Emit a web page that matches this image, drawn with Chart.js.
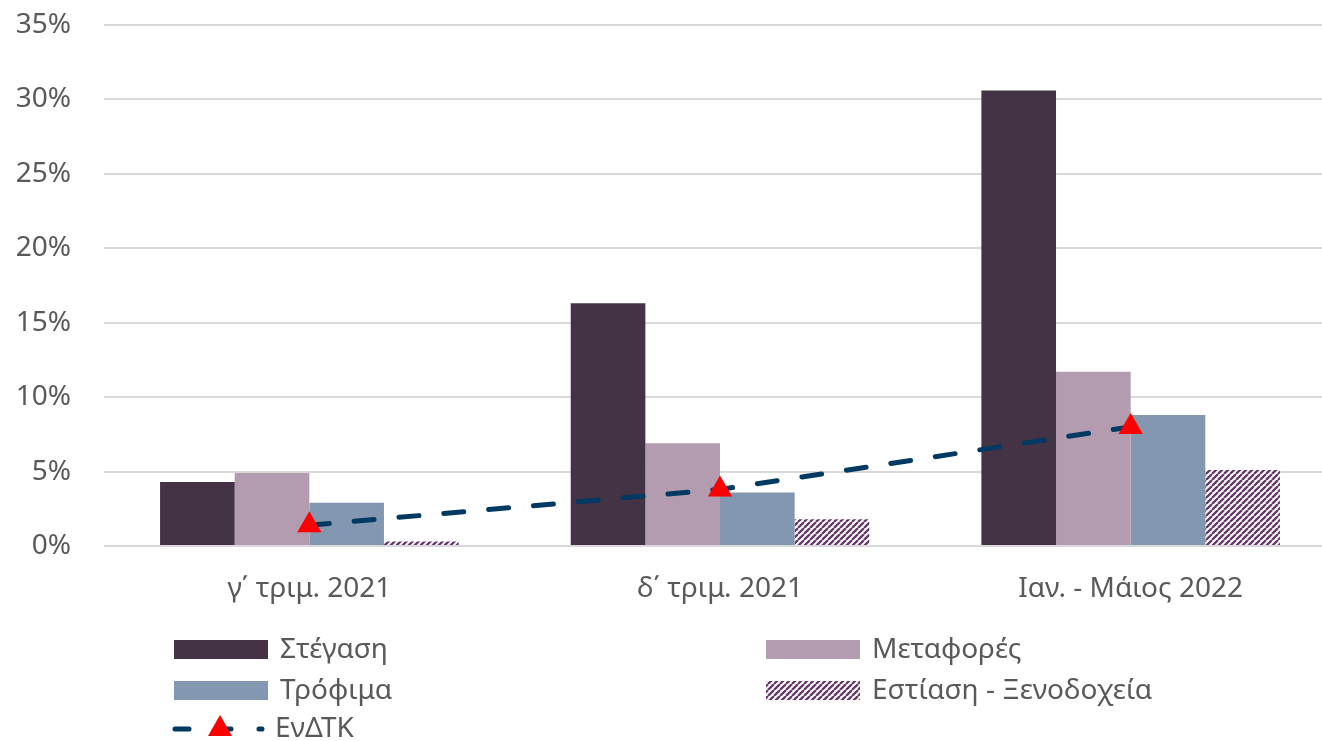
<!DOCTYPE html>
<html>
<head>
<meta charset="utf-8">
<script src="https://cdn.jsdelivr.net/npm/chart.js@4/dist/chart.umd.min.js"></script>
<style>
  html, body { margin: 0; padding: 0; background: #fff; overflow: hidden; width: 1322px; height: 741px; }
  canvas { display: block; }
</style>
</head>
<body>
<canvas id="chart" width="1350" height="741"></canvas>
<script>
'use strict';

const categories = ['γ΄ τριμ. 2021', 'δ΄ τριμ. 2021', 'Ιαν. - Μάιος 2022'];
const housing = [4.3, 16.3, 30.6];
const transport = [4.9, 6.9, 11.7];
const food = [2.9, 3.6, 8.8];
const hotels = [0.3, 1.8, 5.1];
const hicp = [1.4, 3.8, 8.0];
const yTicks = [0, 5, 10, 15, 20, 25, 30, 35];

const textColor = '#595959';
const fontFamily = '"Noto Sans", "Open Sans", sans-serif';
const fontSize = 28;

function makeHatch() {
  const size = 6;
  const tile = document.createElement('canvas');
  tile.width = size;
  tile.height = size;
  const c = tile.getContext('2d');
  c.fillStyle = '#ffffff';
  c.fillRect(0, 0, size, size);
  c.strokeStyle = '#66396a';
  c.lineWidth = 2.3;
  c.beginPath();
  for (let k = -size; k <= size * 2; k += size) {
    c.moveTo(k, size);
    c.lineTo(k + size, 0);
  }
  c.stroke();
  return c.createPattern(tile, 'repeat');
}

const hatch = makeHatch();

// legend drawn under the axis, two columns like the original
const bottomLegend = {
  id: 'bottomLegend',
  afterDraw(chart) {
    const ctx = chart.ctx;
    const ds = chart.data.datasets;
    const items = [
      { d: ds[1], x: 174, y: 640 },
      { d: ds[2], x: 766, y: 640 },
      { d: ds[3], x: 174, y: 681 },
      { d: ds[4], x: 766, y: 681 }
    ];
    ctx.save();
    ctx.font = fontSize + 'px ' + fontFamily;
    ctx.textBaseline = 'middle';
    items.forEach(function(it) {
      ctx.fillStyle = it.d.backgroundColor;
      ctx.fillRect(it.x, it.y, 94, 19);
      ctx.fillStyle = textColor;
      ctx.fillText(it.d.label, it.x + 106, it.y + 10);
    });

    const line = ds[0];
    const ly = 729;
    ctx.strokeStyle = line.borderColor;
    ctx.lineWidth = 5;
    ctx.lineCap = 'round';
    ctx.setLineDash([14, 28]);
    ctx.beginPath();
    ctx.moveTo(175, ly);
    ctx.lineTo(262, ly);
    ctx.stroke();
    ctx.setLineDash([]);
    ctx.fillStyle = line.pointBackgroundColor;
    ctx.beginPath();
    ctx.moveTo(220, ly - 14);
    ctx.lineTo(232, ly + 7);
    ctx.lineTo(208, ly + 7);
    ctx.closePath();
    ctx.fill();
    ctx.fillStyle = textColor;
    ctx.fillText(line.label, 275, ly);
    ctx.restore();
  }
};

new Chart(document.getElementById('chart').getContext('2d'), {
  type: 'bar',
  data: {
    labels: categories,
    datasets: [
      {
        type: 'line',
        label: 'ΕνΔΤΚ',
        data: hicp,
        borderColor: '#003a63',
        borderWidth: 5,
        borderCapStyle: 'round',
        borderDash: [20, 25],
        tension: 0,
        fill: false,
        pointStyle: 'triangle',
        pointRadius: 14,
        pointBackgroundColor: '#ff0000',
        pointBorderColor: '#ff0000',
        pointBorderWidth: 0,
        order: 0
      },
      { label: 'Στέγαση', data: housing, backgroundColor: '#433344', order: 1 },
      { label: 'Μεταφορές', data: transport, backgroundColor: '#b39bb0', order: 1 },
      { label: 'Τρόφιμα', data: food, backgroundColor: '#8497b0', order: 1 },
      { label: 'Εστίαση - Ξενοδοχεία', data: hotels, backgroundColor: hatch, order: 1 }
    ]
  },
  options: {
    responsive: false,
    animation: false,
    categoryPercentage: 0.727,
    barPercentage: 1,
    layout: { padding: { top: 25, right: 4, left: 0, bottom: 0 } },
    plugins: {
      legend: { display: false },
      tooltip: { enabled: false }
    },
    scales: {
      x: {
        grid: { display: false, drawTicks: false },
        border: { display: false },
        ticks: {
          color: textColor,
          font: { family: fontFamily, size: fontSize },
          padding: 26
        },
        afterFit(scale) { scale.height = 195; }
      },
      y: {
        min: 0,
        max: 35,
        afterBuildTicks(scale) {
          scale.ticks = yTicks.map(function(v) { return { value: v }; });
        },
        grid: { color: '#d9d9d9', lineWidth: 2, drawTicks: false },
        border: { display: false },
        ticks: {
          color: textColor,
          font: { family: fontFamily, size: fontSize },
          padding: 33,
          callback: function(v) { return v + '%'; }
        },
        afterFit(scale) {
          scale.width = 104;
          scale.paddingTop = 0;
          scale.paddingBottom = 0;
        }
      }
    }
  },
  plugins: [bottomLegend]
});
</script>
</body>
</html>
